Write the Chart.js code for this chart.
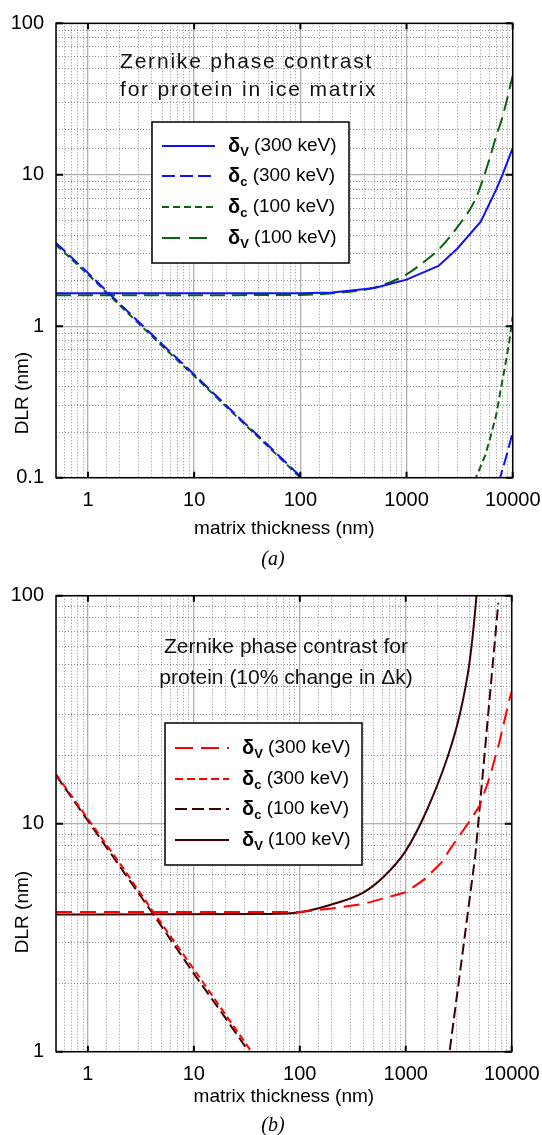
<!DOCTYPE html>
<html>
<head>
<meta charset="utf-8">
<script src="https://cdn.jsdelivr.net/npm/chart.js@4/dist/chart.umd.min.js"></script>
<style>
  html, body { margin: 0; padding: 0; background: #fff; }
  canvas { display: block; }
</style>
</head>
<body>
<canvas id="chartA" width="542" height="575"></canvas>
<canvas id="chartB" width="542" height="560"></canvas>
<script>
// (a) protein in ice matrix, matrix thickness (nm) vs DLR (nm)
const thickA_v300 = [0.5, 100, 200, 500, 1000, 2000, 3000, 5000, 7000, 8000, 10000]
const dlrA_v300 = [1.65, 1.65, 1.67, 1.79, 2.03, 2.5, 3.25, 4.9, 8.0, 10, 15]

const thickA_c300 = [0.5, 1, 2, 5, 10, 20, 50, 100, 200, 500, 1000, 2000, 4000, 6000, 7600, 9000, 10000]
const dlrA_c300 = [3.55, 2.25, 1.4, 0.76, 0.48, 0.3, 0.163, 0.102, 0.065, 0.035, 0.025, 0.022, 0.03, 0.055, 0.1, 0.15, 0.2]

const thickA_c100 = [0.5, 1, 2, 5, 10, 20, 50, 100, 200, 500, 1000, 2000, 3000, 4500, 5500, 6100, 7000, 7700, 8500, 9300, 10000]
const dlrA_c100 = [3.45, 2.2, 1.37, 0.74, 0.47, 0.295, 0.16, 0.1, 0.063, 0.035, 0.025, 0.025, 0.04, 0.1, 0.14, 0.18, 0.26, 0.38, 0.55, 0.8, 1.16]

const thickA_v100 = [0.5, 100, 200, 500, 1000, 1500, 2000, 3000, 4500, 6000, 7000, 8000, 10000]
const dlrA_v100 = [1.6, 1.61, 1.65, 1.8, 2.2, 2.7, 3.2, 4.5, 7.0, 12.5, 18, 24, 45]

// (b) protein, 10% change in delta k
const thickB_v300 = [0.5, 100, 200, 400, 1000, 1500, 2200, 2600, 3800, 5000, 6200, 7600, 9500, 10000]
const dlrB_v300 = [4.1, 4.1, 4.25, 4.45, 5.0, 5.7, 6.8, 7.7, 9.9, 12, 16, 22.5, 35, 38]

const thickB_c300 = [0.5, 1, 2, 4, 10, 20, 35, 50, 100]
const dlrB_c300 = [16.5, 10.5, 6.7, 4.2, 2.3, 1.45, 1.0, 0.8, 0.5]

const thickB_c100 = [0.5, 1, 2, 4, 10, 20, 33, 50, 100, 1000, 2000, 2590, 3435, 4540, 5890, 7480]
const dlrB_c100 = [16.3, 10.3, 6.5, 4.1, 2.2, 1.4, 1.0, 0.75, 0.45, 0.1, 0.5, 1.0, 2.7, 7.3, 27.5, 93]

const thickB_v100 = [0.5, 50, 100, 200, 400, 630, 1000, 1600, 2500, 3200, 4000, 4600, 5000]
const dlrB_v100 = [4.0, 4.02, 4.09, 4.42, 5.0, 5.9, 7.6, 11.6, 19.8, 29.5, 51, 94, 158]

const xTicksMin = 0.5
const xTicksMax = 10000

const FONT = '"Liberation Sans", Arial, sans-serif'
const BLUE = '#1010ff'
const GREEN = '#0a640f'
const RED = '#ff0000'
const DARK = '#3c0000'

Chart.defaults.font.family = FONT
Chart.defaults.color = '#000'

const pts = (xs, ys) => xs.map((x, i) => ({ x: x, y: ys[i] }))

const isDecade = v => Math.abs(Math.log10(v) - Math.round(Math.log10(v))) < 1e-6

function series (label, xs, ys, color, dash, smooth) {
  return {
    label: label,
    data: pts(xs, ys),
    showLine: true,
    borderColor: color,
    backgroundColor: color,
    borderWidth: 2,
    borderDash: dash,
    pointRadius: 0,
    tension: 0,
    cubicInterpolationMode: smooth ? 'monotone' : 'default',
    clip: 0
  }
}

// frame, inner ticks, note text, legend box, axis titles, caption
const decorate = {
  id: 'decorate',
  afterDraw (chart, args, o) {
    const { ctx, chartArea: a, scales: { x, y } } = chart
    ctx.save()

    // black frame
    ctx.strokeStyle = '#000'
    ctx.lineWidth = 1.5
    ctx.strokeRect(a.left, a.top, a.right - a.left, a.bottom - a.top)

    // inward major ticks
    ctx.lineWidth = 2
    ctx.beginPath()
    x.ticks.forEach(t => {
      if (!isDecade(t.value)) return
      const px = x.getPixelForValue(t.value)
      ctx.moveTo(px, a.top); ctx.lineTo(px, a.top + 6)
      ctx.moveTo(px, a.bottom); ctx.lineTo(px, a.bottom - 6)
    })
    y.ticks.forEach(t => {
      if (!isDecade(t.value)) return
      const py = y.getPixelForValue(t.value)
      ctx.moveTo(a.left, py); ctx.lineTo(a.left + 7, py)
      ctx.moveTo(a.right, py); ctx.lineTo(a.right - 7, py)
    })
    ctx.stroke()

    // note text
    ctx.fillStyle = '#111'
    ctx.font = '21px ' + FONT
    ctx.textAlign = o.noteAlign
    ctx.textBaseline = 'middle'
    if ('letterSpacing' in ctx) ctx.letterSpacing = o.noteSpacing
    o.note.forEach((line, i) => ctx.fillText(line, o.noteX, o.noteY[i]))
    if ('letterSpacing' in ctx) ctx.letterSpacing = '0px'

    // legend box
    const [bx, by, bw, bh] = o.box
    ctx.fillStyle = '#fff'
    ctx.fillRect(bx, by, bw, bh)
    ctx.strokeStyle = '#000'
    ctx.lineWidth = 1.5
    ctx.strokeRect(bx, by, bw, bh)
    chart.data.datasets.forEach((ds, i) => {
      const ry = o.rows[i]
      ctx.save()
      ctx.strokeStyle = ds.borderColor
      ctx.lineWidth = 2
      ctx.setLineDash(o.legendDash[i])
      ctx.beginPath()
      ctx.moveTo(o.lineX[0], ry); ctx.lineTo(o.lineX[1], ry)
      ctx.stroke()
      ctx.restore()
      ctx.fillStyle = '#000'
      ctx.textAlign = 'left'
      ctx.textBaseline = 'middle'
      let tx = o.textX
      ctx.font = 'bold 20px ' + FONT
      ctx.fillText(ds.label[0], tx, ry)
      tx += ctx.measureText(ds.label[0]).width
      ctx.font = 'bold 13px ' + FONT
      ctx.fillText(ds.label[1], tx, ry + 6)
      tx += ctx.measureText(ds.label[1]).width
      ctx.font = '19px ' + FONT
      ctx.fillText(ds.label.slice(2), tx, ry)
    })

    // axis titles
    ctx.fillStyle = '#000'
    ctx.font = '19px ' + FONT
    ctx.textAlign = 'center'
    ctx.textBaseline = 'middle'
    ctx.fillText('matrix thickness (nm)', (a.left + a.right) / 2, o.xTitleY)
    ctx.save()
    ctx.translate(23, o.yTitleY)
    ctx.rotate(-Math.PI / 2)
    ctx.fillText('DLR (nm)', 0, 0)
    ctx.restore()

    // caption
    ctx.font = 'italic 20px "Liberation Serif", "Times New Roman", serif'
    ctx.fillText(o.caption, 273, o.captionY)
    ctx.restore()
  }
}

function makeChart (id, datasets, yMin, yMax, top, right, height, bottom, deco) {
  return new Chart(document.getElementById(id), {
    type: 'scatter',
    data: { datasets: datasets },
    plugins: [decorate],
    options: {
      responsive: false,
      animation: false,
      devicePixelRatio: 1,
      layout: { padding: { top: top, right: right, left: 0, bottom: 0 } },
      plugins: {
        legend: { display: false },
        tooltip: { enabled: false },
        decorate: deco
      },
      scales: {
        x: {
          type: 'logarithmic',
          min: xTicksMin,
          max: xTicksMax,
          afterFit: s => {
            s.height = height - bottom
            s.paddingLeft = 0
            s.paddingRight = 0
          },
          border: { display: false, dash: c => (c.tick && !isDecade(c.tick.value)) ? [1, 2] : [] },
          grid: {
            drawTicks: false,
            color: c => (c.tick && isDecade(c.tick.value)) ? '#b0b0b0' : '#8e8e8e',
            lineWidth: c => (c.tick && isDecade(c.tick.value)) ? 1.3 : 1
          },
          ticks: {
            autoSkip: false,
            maxRotation: 0,
            padding: 11,
            font: { size: 20 },
            callback: v => isDecade(v) ? String(Math.round(v)) : ''
          }
        },
        y: {
          type: 'logarithmic',
          min: yMin,
          max: yMax,
          afterFit: s => {
            s.width = 56
            s.paddingTop = 0
            s.paddingBottom = 0
          },
          border: { display: false, dash: c => (c.tick && !isDecade(c.tick.value)) ? [1, 2] : [] },
          grid: {
            drawTicks: false,
            color: c => (c.tick && isDecade(c.tick.value)) ? '#b0b0b0' : '#8e8e8e',
            lineWidth: c => (c.tick && isDecade(c.tick.value)) ? 1.3 : 1
          },
          ticks: {
            autoSkip: false,
            padding: 12,
            font: { size: 20 },
            callback: v => isDecade(v) ? (v >= 1 ? String(Math.round(v)) : String(Number(v.toPrecision(1)))) : ''
          }
        }
      }
    }
  })
}

makeChart('chartA', [
  series('δV (300 keV)', thickA_v300, dlrA_v300, BLUE, []),
  series('δc (300 keV)', thickA_c300, dlrA_c300, BLUE, [13, 5]),
  series('δc (100 keV)', thickA_c100, dlrA_c100, GREEN, [7, 4]),
  series('δV (100 keV)', thickA_v100, dlrA_v100, GREEN, [15, 7], true)
], 0.1, 100, 23.3, 29.3, 575, 477.7, {
  note: ['Zernike phase contrast', 'for protein in ice matrix'],
  noteX: 120, noteY: [62, 90], noteAlign: 'left', noteSpacing: '1.8px',
  box: [152, 122, 197, 141], rows: [146, 176, 207, 238],
  lineX: [162, 215], textX: 228,
  legendDash: [[], [13, 5], [7, 4], [18, 9]],
  xTitleY: 529, yTitleY: 393, caption: '(a)', captionY: 560
})

makeChart('chartB', [
  series('δV (300 keV)', thickB_v300, dlrB_v300, RED, [16, 8]),
  series('δc (300 keV)', thickB_c300, dlrB_c300, RED, [7, 4]),
  series('δc (100 keV)', thickB_c100, dlrB_c100, DARK, [11, 5]),
  series('δV (100 keV)', thickB_v100, dlrB_v100, DARK, [], true)
], 1, 100, 20.7, 30.3, 560, 476.7, {
  note: ['Zernike phase contrast for', 'protein (10% change in Δk)'],
  noteX: 286, noteY: [72, 103], noteAlign: 'center', noteSpacing: '0px',
  box: [165, 148, 197, 142], rows: [173, 204, 234, 265],
  lineX: [175, 229], textX: 242,
  legendDash: [[18, 8], [8, 4], [12, 5], []],
  xTitleY: 522, yTitleY: 337, caption: '(b)', captionY: 551
})
</script>
</body>
</html>
